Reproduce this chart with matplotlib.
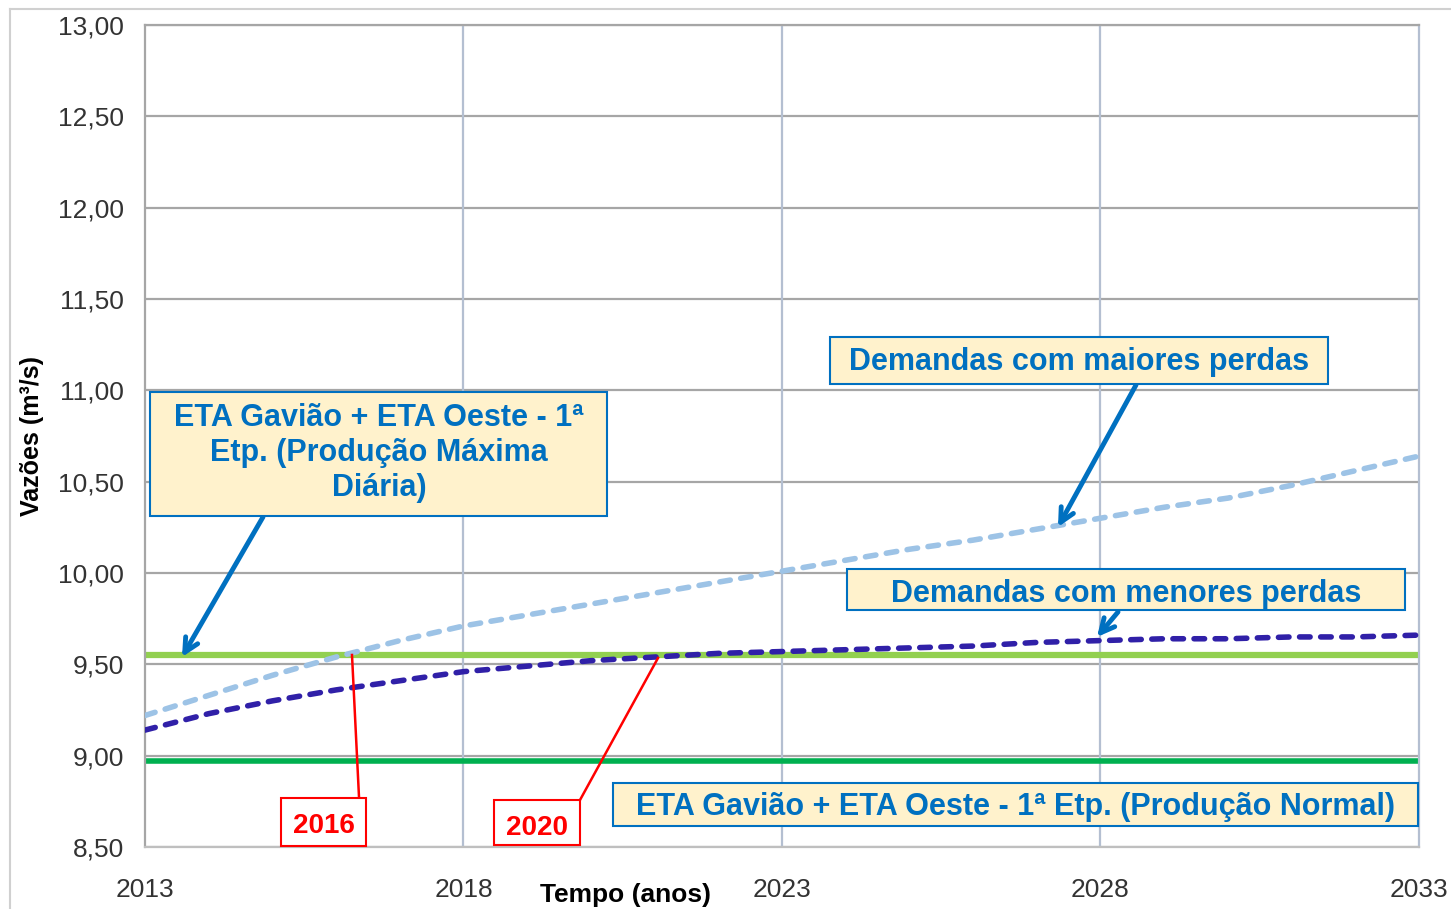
import matplotlib
matplotlib.use("Agg")
import matplotlib.pyplot as plt
from matplotlib.lines import Line2D
from matplotlib.patches import Rectangle

plt.rcParams['font.family'] = ['Liberation Sans', 'DejaVu Sans']

# Data
anos = list(range(2013, 2034))
maiores_perdas = [9.22, 9.33, 9.44, 9.54, 9.63, 9.71, 9.77, 9.83, 9.89, 9.95, 10.01,
                  10.07, 10.13, 10.18, 10.24, 10.30, 10.36, 10.41, 10.48, 10.56, 10.64]
menores_perdas = [9.14, 9.23, 9.30, 9.36, 9.41, 9.46, 9.49, 9.52, 9.54, 9.56, 9.57,
                  9.58, 9.59, 9.60, 9.62, 9.63, 9.64, 9.64, 9.65, 9.65, 9.66]
producao_maxima = 9.55
producao_normal = 8.97

blue = '#0070C0'
box_fill = '#FFF2CC'

fig = plt.figure(figsize=(14.51, 9.09), dpi=100)
ax = fig.add_axes([145/1451, 62/909, 1274/1451, 822/909])

# outer chart border
fig.add_artist(Line2D([10/1451, 10/1451], [0, 1 - 9/909], color='#d0d0d0', lw=1.5))
fig.add_artist(Line2D([10/1451, 1], [1 - 9/909, 1 - 9/909], color='#d0d0d0', lw=1.5))

ax.set_xlim(2013, 2033)
ax.set_ylim(8.5, 13.0)
ax.set_yticks([8.5 + 0.5 * i for i in range(10)])
ax.set_yticklabels([f'{8.5 + 0.5 * i:.2f}'.replace('.', ',') for i in range(10)])
ax.set_xticks([2013, 2018, 2023, 2028, 2033])
ax.tick_params(length=0, labelsize=19, colors='#333333')
ax.tick_params(axis='y', pad=15)
ax.tick_params(axis='x', pad=22)

for y in ax.get_yticks():
    ax.axhline(y, color='#a6a6a6', lw=1.6, zorder=0)
for x in [2018, 2023, 2028]:
    ax.axvline(x, color='#b4bfd1', lw=1.6, zorder=0)
for s in ax.spines.values():
    s.set_color('#b4bfd1')
    s.set_linewidth(1.6)
ax.spines['left'].set_color('#a6a6a6')
ax.spines['top'].set_color('#a6a6a6')
ax.spines['bottom'].set_color('#bfbfbf')

ax.axhline(producao_maxima, color='#92D050', lw=4.5, zorder=2)
ax.axhline(producao_normal, color='#00B050', lw=4, zorder=2)
ax.plot(anos, maiores_perdas, color='#9DC3E6', lw=4, dashes=(1.9, 1.9),
        dash_capstyle='round', zorder=3)
ax.plot(anos, menores_perdas, color='#3020A8', lw=4, dashes=(1.9, 1.9),
        dash_capstyle='round', zorder=3)

ax.set_ylabel('Vazões (m³/s)', fontsize=18, fontweight='bold', labelpad=10)
fig.text(625/1451, 1 - 895/909, 'Tempo (anos)', fontsize=19, fontweight='bold',
         ha='center', va='center')


def px(x, y):
    # pixel position in the picture -> data coordinates
    return 2013 + (x - 145) / 1274 * 20, 13.0 - (y - 25) / 822 * 4.5


def box(x0, y0, x1, y1, ec, fc):
    a = px(x0, y1)
    b = px(x1, y0)
    ax.add_patch(Rectangle(a, b[0] - a[0], b[1] - a[1], fc=fc, ec=ec, lw=1.5,
                           zorder=6, clip_on=False))


def arrow(start, end):
    ax.annotate('', xy=px(*end), xytext=px(*start),
                arrowprops=dict(arrowstyle='->,head_length=1.0,head_width=0.5',
                                color=blue, lw=3.5, shrinkA=0, shrinkB=0), zorder=5)


def label(text, center, size=22, color=blue):
    ax.text(*px(*center), text, ha='center', va='center', fontsize=size,
            fontweight='bold', color=color, linespacing=1.2, zorder=7)


box(150, 392, 607, 516, blue, box_fill)
label('ETA Gavião + ETA Oeste - 1ª\nEtp. (Produção Máxima\nDiária)', (379, 453))
arrow((263, 517), (182, 657))

box(830, 337, 1328, 384, blue, box_fill)
label('Demandas com maiores perdas', (1079, 362))
arrow((1136, 385), (1058, 527))

box(847, 569, 1405, 610, blue, box_fill)
label('Demandas com menores perdas', (1126, 594))
arrow((1118, 612), (1097, 637))

box(613, 783, 1418, 826, blue, box_fill)
label('ETA Gavião + ETA Oeste - 1ª Etp. (Produção Normal)', (1016, 807))

# red year markers
for txt, rect, center, line_a, line_b in [
        ('2016', (281, 798, 366, 846), (324, 826), (359, 797), (352, 655)),
        ('2020', (494, 800, 580, 845), (537, 828), (580, 800), (658, 658))]:
    ax.plot(*zip(px(*line_a), px(*line_b)), color='red', lw=1.8, zorder=4)
    box(*rect, 'red', 'white')
    label(txt, center, size=20, color='red')

fig.savefig('out.png', dpi=100)
